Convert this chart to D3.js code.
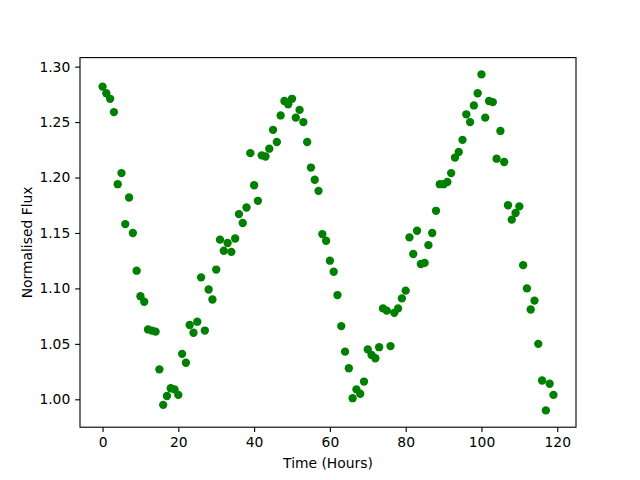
<!DOCTYPE html>
<html>
<head>
<meta charset="utf-8">
<script src="https://cdn.jsdelivr.net/npm/d3@7"></script>
<style>
  html, body { margin: 0; padding: 0; background: #fff; }
  text { font-family: "DejaVu Sans", sans-serif; }
</style>
</head>
<body>
<svg id="chart" width="640" height="480"></svg>
<script>
// Data
const hours = d3.range(0, 120);
const flux = [
  1.282, 1.276, 1.271, 1.259, 1.194, 1.204, 1.158, 1.182, 1.150, 1.116,
  1.093, 1.088, 1.063, 1.062, 1.061, 1.027, 0.995, 1.003, 1.010, 1.009,
  1.004, 1.041, 1.033, 1.067, 1.060, 1.070, 1.110, 1.062, 1.099, 1.090,
  1.117, 1.144, 1.134, 1.141, 1.133, 1.145, 1.167, 1.159, 1.173, 1.222,
  1.193, 1.179, 1.220, 1.219, 1.226, 1.243, 1.232, 1.256, 1.269, 1.266,
  1.271, 1.254, 1.261, 1.250, 1.232, 1.209, 1.198, 1.188, 1.149, 1.143,
  1.125, 1.115, 1.094, 1.066, 1.043, 1.028, 1.001, 1.009, 1.005, 1.016,
  1.045, 1.040, 1.037, 1.047, 1.082, 1.080, 1.048, 1.078, 1.082, 1.091,
  1.098, 1.146, 1.131, 1.152, 1.122, 1.123, 1.139, 1.150, 1.170, 1.194,
  1.194, 1.196, 1.204, 1.218, 1.223, 1.234, 1.257, 1.250, 1.265, 1.276,
  1.293, 1.254, 1.269, 1.268, 1.217, 1.242, 1.214, 1.175, 1.162, 1.168,
  1.174, 1.121, 1.100, 1.081, 1.089, 1.050, 1.017, 0.990, 1.014, 1.004
];
const xTicks = [0, 20, 40, 60, 80, 100, 120];
const yTicks = [1.00, 1.05, 1.10, 1.15, 1.20, 1.25, 1.30];
const xLabel = "Time (Hours)";
const yLabel = "Normalised Flux";

const W = 640, H = 480;
const mLeft = 80, mRight = 576, mTop = 57.6, mBottom = 427.2;

function padded(ext) {
  const m = (ext[1] - ext[0]) * 0.05;
  return [ext[0] - m, ext[1] + m];
}

const x = d3.scaleLinear().domain(padded(d3.extent(hours))).range([mLeft, mRight]);
const y = d3.scaleLinear().domain(padded(d3.extent(flux))).range([mBottom, mTop]);

const svg = d3.select("#chart");
svg.append("rect").attr("width", W).attr("height", H).attr("fill", "#fff");

const tick = 3.5 * 100 / 72;
const fontPx = 10 * 100 / 72;

// Points
svg.append("g")
  .selectAll("circle")
  .data(hours)
  .join("circle")
  .attr("cx", (d, i) => x(d))
  .attr("cy", (d, i) => y(flux[i]))
  .attr("r", 4.17)
  .attr("fill", "#008000");

// Axes
const xAxis = svg.append("g")
  .attr("transform", `translate(0,${mBottom})`)
  .call(d3.axisBottom(x).tickValues(xTicks).tickFormat(d3.format("d")).tickSize(tick).tickPadding(tick));
const yAxis = svg.append("g")
  .attr("transform", `translate(${mLeft},0)`)
  .call(d3.axisLeft(y).tickValues(yTicks).tickFormat(d3.format(".2f")).tickSize(tick).tickPadding(tick));

[xAxis, yAxis].forEach(a => {
  a.select(".domain").remove();
  a.selectAll("line").attr("stroke", "#000").attr("stroke-width", 0.8 * 100 / 72);
  a.selectAll("text").attr("fill", "#000").style("font-size", fontPx + "px").style("font-family", "DejaVu Sans");
});

// Frame
svg.append("rect")
  .attr("x", mLeft).attr("y", mTop)
  .attr("width", mRight - mLeft).attr("height", mBottom - mTop)
  .attr("fill", "none").attr("stroke", "#000").attr("stroke-width", 0.8 * 100 / 72);

// Labels
svg.append("text")
  .attr("x", (mLeft + mRight) / 2).attr("y", 468)
  .attr("text-anchor", "middle")
  .style("font-size", fontPx + "px")
  .text(xLabel);

svg.append("text")
  .attr("transform", `translate(32,${(mTop + mBottom) / 2}) rotate(-90)`)
  .attr("text-anchor", "middle")
  .style("font-size", fontPx + "px")
  .text(yLabel);
</script>
</body>
</html>
